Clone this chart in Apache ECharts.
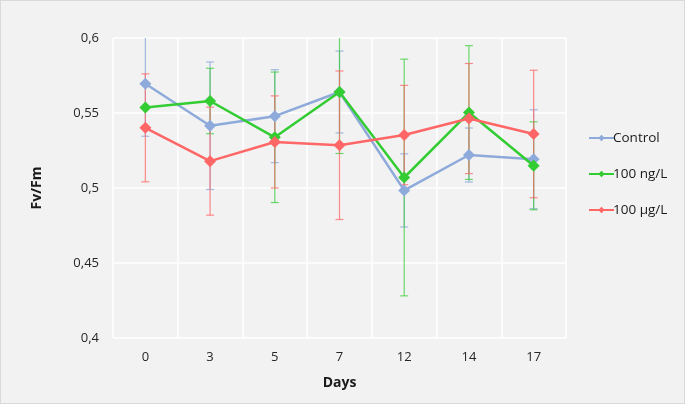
<!DOCTYPE html>
<html><head><meta charset="utf-8">
<script src="https://cdn.jsdelivr.net/npm/echarts@6/dist/echarts.min.js"></script>
<style>html,body{margin:0;padding:0;background:#f2f2f2}#c{width:685px;height:404px;box-sizing:border-box;border:1px solid #d9d9d9}</style>
</head><body><div id="c"></div>
<script>
const days = ['0','3','5','7','12','14','17'];
const seriesNames = ['Control','100 ng/L','100 µg/L'];
const controlVals = [0.5695, 0.5415, 0.5479, 0.564, 0.4984, 0.522, 0.5192];
const controlErr  = [0.035, 0.0425, 0.031, 0.0273, 0.0244, 0.018, 0.033];
const ngVals = [0.5536, 0.558, 0.5338, 0.564, 0.507, 0.5503, 0.5148];
const ngErr  = [0, 0.0218, 0.0435, 0.041, 0.0789, 0.0446, 0.0293];
const ugVals = [0.5401, 0.5179, 0.5307, 0.5285, 0.5353, 0.5463, 0.536];
const ugErr  = [0.036, 0.036, 0.0307, 0.0495, 0.0331, 0.0367, 0.0425];
const yTicks = [0.4, 0.45, 0.5, 0.55, 0.6];

const colors = ['#8eaadb', '#33cc33', '#ff6666'];
const errColors = ['rgba(142,170,219,0.8)', 'rgba(51,204,51,0.7)', 'rgba(255,102,102,0.75)'];
const YMIN = yTicks[0], YMAX = yTicks[yTicks.length-1];
const FONT = 'Open Sans';

function errData(vals, errs) {
  return vals.map((v, i) => [i, v - errs[i], v + errs[i], errs[i]]);
}
function errSeries(vals, errs, idx) {
  return {
    type: 'custom', name: 'err-' + idx, z: 1 + idx,
    itemStyle: { color: colors[idx] },
    data: errData(vals, errs),
    renderItem: function (params, api) {
      if (api.value(3) <= 0) return null;
      const x = api.value(0);
      const lo = api.value(1), hi = api.value(2);
      const loC = Math.max(lo, YMIN), hiC = Math.min(hi, YMAX);
      const p1 = api.coord([x, hiC]);
      const p2 = api.coord([x, loC]);
      const w = 4;
      const style = { stroke: errColors[idx], lineWidth: 1.2 };
      const children = [{ type: 'line', shape: { x1: p1[0], y1: p1[1], x2: p2[0], y2: p2[1] }, style: style }];
      if (hi <= YMAX) children.push({ type: 'line', shape: { x1: p1[0]-w, y1: p1[1], x2: p1[0]+w, y2: p1[1] }, style: style });
      if (lo >= YMIN) children.push({ type: 'line', shape: { x1: p2[0]-w, y1: p2[1], x2: p2[0]+w, y2: p2[1] }, style: style });
      return { type: 'group', children: children };
    },
    silent: true, tooltip: { show: false }
  };
}
function lineSeries(vals, idx) {
  return {
    type: 'line', name: seriesNames[idx], data: vals, z: 10 + idx,
    symbol: 'diamond', symbolSize: 12,
    lineStyle: { color: colors[idx], width: 2.5 },
    itemStyle: { color: colors[idx] }
  };
}

const chart = echarts.init(document.getElementById('c'), null, { renderer: 'canvas' });
chart.setOption({
  backgroundColor: '#f2f2f2',
  animation: false,
  textStyle: { fontFamily: FONT },
  grid: { left: 112, right: 118, top: 37, bottom: 65, containLabel: false },
  legend: {
    orient: 'vertical', left: 582, top: 125, itemGap: 22,
    itemWidth: 25, itemHeight: 8,
    data: seriesNames,
    textStyle: { fontFamily: FONT, fontSize: 13.5, color: '#1a1a1a', padding: [0,0,0,-6] }
  },
  xAxis: {
    type: 'category', data: days, boundaryGap: true,
    axisLine: { show: false }, axisTick: { show: false },
    axisLabel: { fontFamily: FONT, fontSize: 13, color: '#262626', margin: 13 },
    splitLine: { show: true, interval: 0, lineStyle: { color: '#ffffff', width: 1.5, opacity: 1 } },
    splitArea: { show: false },
    name: 'Days', nameLocation: 'middle', nameGap: 38,
    nameTextStyle: { fontFamily: FONT, fontSize: 14, fontWeight: 'bold', color: '#1a1a1a' }
  },
  yAxis: {
    type: 'value', min: YMIN, max: YMAX, interval: 0.05,
    axisLine: { show: false }, axisTick: { show: false },
    axisLabel: { fontFamily: FONT, fontSize: 13, color: '#262626', margin: 14,
      formatter: v => String(+v.toFixed(2)).replace('.', ',') },
    splitLine: { show: true, lineStyle: { color: '#ffffff', width: 1.5 } },
    name: 'Fv/Fm', nameLocation: 'middle', nameGap: 69, nameRotate: 90,
    nameTextStyle: { fontFamily: FONT, fontSize: 14, fontWeight: 'bold', color: '#1a1a1a' }
  },
  series: [
    errSeries(controlVals, controlErr, 0),
    errSeries(ngVals, ngErr, 1),
    errSeries(ugVals, ugErr, 2),
    lineSeries(controlVals, 0),
    lineSeries(ngVals, 1),
    lineSeries(ugVals, 2)
  ]
});
</script></body></html>
